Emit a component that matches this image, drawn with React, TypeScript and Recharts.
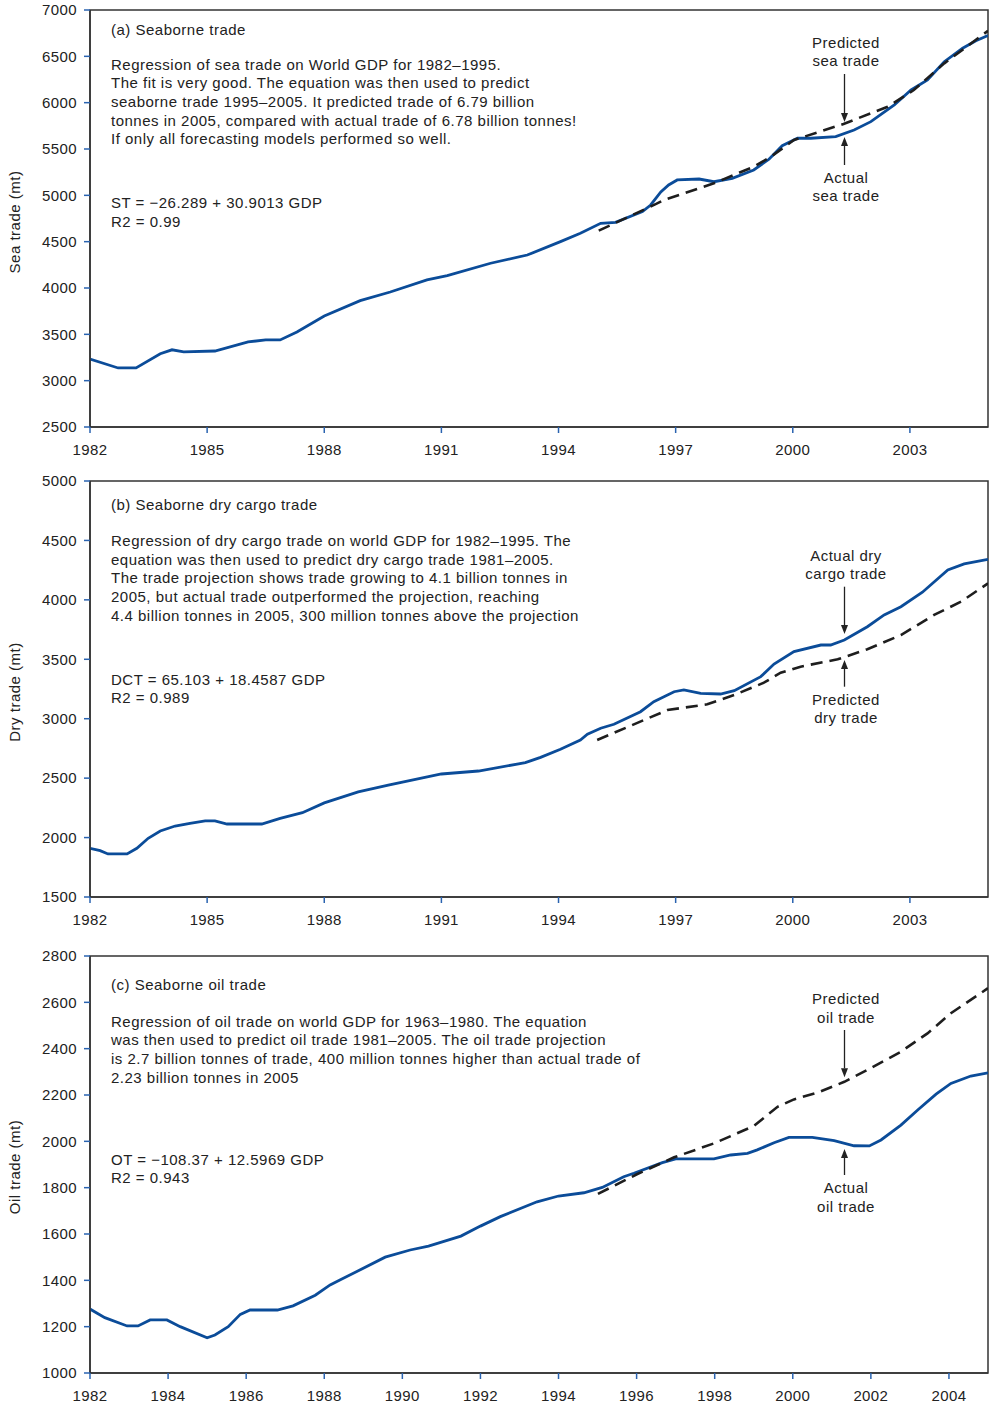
import { LineChart, Line, XAxis, YAxis, ReferenceArea, Customized } from 'recharts';

const FONT = '"Liberation Sans", Arial, Helvetica, sans-serif';
const BLUE = '#0b4c99';
const TICK_BLUE = '#2a63b0';
const INK = '#222';

// (a) seaborne trade, mt
const seaYears = [1982.0, 1982.72, 1983.18, 1983.8, 1984.1, 1984.4, 1985.2, 1986.05, 1986.5, 1986.87, 1987.3, 1988.0, 1988.92, 1989.69, 1990.63, 1991.15, 1992.26, 1993.2, 1994.05, 1994.56, 1995.08, 1995.46, 1996.15, 1996.36, 1996.62, 1996.82, 1997.04, 1997.6, 1997.98, 1998.45, 1999.0, 1999.39, 1999.73, 2000.12, 2000.46, 2001.1, 2001.57, 2002.0, 2002.6, 2003.03, 2003.45, 2003.88, 2004.35, 2004.69, 2005.0];
const seaActual = [3234, 3137, 3137, 3290, 3333, 3310, 3320, 3418, 3440, 3440, 3525, 3698, 3863, 3957, 4087, 4133, 4267, 4356, 4500, 4590, 4698, 4709, 4824, 4896, 5036, 5112, 5166, 5176, 5147, 5184, 5274, 5389, 5536, 5616, 5616, 5633, 5705, 5795, 5975, 6137, 6245, 6442, 6587, 6669, 6725];
const seaPredYears = [1995.03, 1996.5, 1996.7, 1997.98, 1999.0, 1999.44, 2000.03, 2001.3, 2002.43, 2003.1, 2003.88, 2005.0];
const seaPred = [4619, 4907, 4950, 5130, 5309, 5417, 5597, 5770, 5956, 6137, 6424, 6775];

// (b) dry cargo trade, mt
const dryYears = [1982.0, 1982.26, 1982.46, 1982.95, 1983.2, 1983.49, 1983.8, 1984.18, 1984.56, 1984.95, 1985.2, 1985.51, 1986.4, 1986.87, 1987.44, 1988.0, 1988.87, 1989.64, 1991.0, 1991.95, 1993.15, 1993.54, 1994.05, 1994.56, 1994.74, 1995.08, 1995.42, 1996.1, 1996.44, 1996.96, 1997.21, 1997.64, 1998.15, 1998.5, 1999.18, 1999.52, 2000.03, 2000.72, 2000.97, 2001.32, 2001.91, 2002.34, 2002.77, 2003.32, 2003.97, 2004.39, 2005.0];
const dryActual = [1910, 1890, 1862, 1862, 1910, 1994, 2055, 2097, 2120, 2140, 2140, 2114, 2114, 2162, 2209, 2292, 2384, 2442, 2535, 2560, 2630, 2675, 2743, 2821, 2869, 2920, 2953, 3059, 3143, 3227, 3242, 3214, 3208, 3236, 3354, 3460, 3564, 3620, 3620, 3662, 3774, 3873, 3942, 4064, 4251, 4302, 4341];
const dryPredYears = [1994.99, 1996.79, 1997.81, 1998.5, 1999.26, 1999.69, 2000.2, 2001.15, 2001.91, 2002.77, 2003.62, 2004.31, 2005.0];
const dryPred = [2821, 3073, 3121, 3200, 3303, 3387, 3438, 3500, 3584, 3704, 3873, 3985, 4139];

// (c) oil trade, mt
const oilYears = [1982.0, 1982.38, 1982.95, 1983.23, 1983.54, 1983.97, 1984.31, 1985.0, 1985.2, 1985.54, 1985.85, 1986.1, 1986.8, 1987.2, 1987.77, 1988.15, 1988.4, 1989.56, 1990.2, 1990.67, 1991.5, 1992.0, 1992.51, 1993.45, 1994.0, 1994.65, 1995.12, 1995.67, 1995.93, 1996.66, 1997.0, 1997.98, 1998.41, 1998.84, 1999.09, 1999.52, 1999.9, 2000.5, 2001.06, 2001.57, 2001.96, 2002.26, 2002.77, 2003.2, 2003.67, 2004.05, 2004.56, 2005.0];
const oilActual = [1276, 1239, 1203, 1203, 1229, 1229, 1200, 1152, 1164, 1200, 1253, 1272, 1272, 1290, 1336, 1380, 1401, 1500, 1531, 1548, 1591, 1634, 1675, 1739, 1764, 1778, 1801, 1847, 1862, 1908, 1924, 1924, 1941, 1948, 1963, 1994, 2017, 2017, 2003, 1981, 1980, 2006, 2070, 2135, 2204, 2250, 2282, 2296];
const oilPredYears = [1995.01, 1996.02, 1996.96, 1997.98, 1999.0, 1999.61, 2000.03, 2000.63, 2001.32, 2001.91, 2002.77, 2003.45, 2004.05, 2005.0];
const oilPred = [1773, 1859, 1931, 1991, 2066, 2149, 2181, 2210, 2257, 2308, 2387, 2466, 2553, 2661];

const yearTicks3 = [1982, 1985, 1988, 1991, 1994, 1997, 2000, 2003];
const yearTicks2 = [1982, 1984, 1986, 1988, 1990, 1992, 1994, 1996, 1998, 2000, 2002, 2004];
const seaTicks = [2500, 3000, 3500, 4000, 4500, 5000, 5500, 6000, 6500, 7000];
const dryTicks = [1500, 2000, 2500, 3000, 3500, 4000, 4500, 5000];
const oilTicks = [1000, 1200, 1400, 1600, 1800, 2000, 2200, 2400, 2600, 2800];

const toPoints = (xs: number[], ys: number[]) => xs.map((year, i) => ({ year, value: ys[i] }));

type Callout = { lines: string[]; y: number; from: number; to: number };
type Notes = {
  yLabel: string;
  yLabelY: number;
  title: string;
  titleY: number;
  para: string[];
  paraY: number;
  eq: string[];
  eqY: number;
  callouts: Callout[];
};

const LH = 18.7;
const tickStyle = { fill: INK, fontSize: 15, fontFamily: FONT, letterSpacing: 0.4 };

function Arrow({ x, from, to }: { x: number; from: number; to: number }) {
  const dir = to > from ? 1 : -1;
  const base = to - dir * 9;
  return (
    <g>
      <line x1={x} y1={from} x2={x} y2={base} stroke={INK} strokeWidth={1.3} />
      <polygon points={`${x - 3.5},${base} ${x + 3.5},${base} ${x},${to}`} fill={INK} />
    </g>
  );
}

function renderNotes(n: Notes) {
  return () => (
    <g fontFamily={FONT} fontSize={15} fill={INK} letterSpacing={0.5}>
      <text x={20} y={n.yLabelY} transform={`rotate(-90, 20, ${n.yLabelY})`} textAnchor="middle">
        {n.yLabel}
      </text>
      <text x={111} y={n.titleY}>{n.title}</text>
      {n.para.map((s, i) => (
        <text key={'p' + i} x={111} y={n.paraY + i * LH}>{s}</text>
      ))}
      {n.eq.map((s, i) => (
        <text key={'e' + i} x={111} y={n.eqY + i * LH}>{s}</text>
      ))}
      {n.callouts.map((c, i) => (
        <g key={'c' + i}>
          {c.lines.map((s, j) => (
            <text key={j} x={846} y={c.y + j * LH} textAnchor="middle">{s}</text>
          ))}
          <Arrow x={844.5} from={c.from} to={c.to} />
        </g>
      ))}
    </g>
  );
}

type PanelProps = {
  top: number;
  height: number;
  marginTop: number;
  marginBottom: number;
  yDomain: [number, number];
  yTicks: number[];
  xTicks: number[];
  actual: { year: number; value: number }[];
  predicted: { year: number; value: number }[];
  notes: Notes;
};

function Panel(p: PanelProps) {
  return (
    <div style={{ position: 'absolute', left: 0, top: p.top }}>
      <LineChart
        width={990}
        height={p.height}
        margin={{ top: p.marginTop, right: 2, bottom: p.marginBottom, left: 0 }}
      >
        <XAxis
          dataKey="year"
          type="number"
          domain={[1982, 2005]}
          ticks={p.xTicks}
          allowDataOverflow
          height={30}
          tickSize={6}
          tickMargin={11}
          tick={tickStyle}
          tickLine={{ stroke: TICK_BLUE, strokeWidth: 1.5 }}
          axisLine={{ stroke: '#333', strokeWidth: 1.5 }}
        />
        <YAxis
          type="number"
          domain={p.yDomain}
          ticks={p.yTicks}
          allowDataOverflow
          width={90}
          tickSize={6}
          tickMargin={7}
          tick={tickStyle}
          tickLine={{ stroke: TICK_BLUE, strokeWidth: 1.5 }}
          axisLine={{ stroke: '#333', strokeWidth: 1.5 }}
        />
        <ReferenceArea
          x1={1982}
          x2={2005}
          y1={p.yDomain[0]}
          y2={p.yDomain[1]}
          fill="none"
          stroke="#333"
          strokeWidth={1.5}
        />
        <Line
          data={p.actual}
          dataKey="value"
          type="linear"
          stroke={BLUE}
          strokeWidth={2.8}
          dot={false}
          activeDot={false}
          isAnimationActive={false}
        />
        <Line
          data={p.predicted}
          dataKey="value"
          type="linear"
          stroke="#1e1e1e"
          strokeWidth={2.6}
          strokeDasharray="12 7"
          dot={false}
          activeDot={false}
          isAnimationActive={false}
        />
        <Customized component={renderNotes(p.notes)} />
      </LineChart>
    </div>
  );
}

const seaNotes: Notes = {
  yLabel: 'Sea trade (mt)',
  yLabelY: 222,
  title: '(a) Seaborne trade',
  titleY: 35,
  para: [
    'Regression of sea trade on World GDP for 1982–1995.',
    'The fit is very good. The equation was then used to predict',
    'seaborne trade 1995–2005. It predicted trade of 6.79 billion',
    'tonnes in 2005, compared with actual trade of 6.78 billion tonnes!',
    'If only all forecasting models performed so well.',
  ],
  paraY: 69.5,
  eq: ['ST = −26.289 + 30.9013 GDP', 'R2 = 0.99'],
  eqY: 208,
  callouts: [
    { lines: ['Predicted', 'sea trade'], y: 47.5, from: 74, to: 122 },
    { lines: ['Actual', 'sea trade'], y: 182.5, from: 165, to: 137 },
  ],
};

const dryNotes: Notes = {
  yLabel: 'Dry trade (mt)',
  yLabelY: 222,
  title: '(b) Seaborne dry cargo trade',
  titleY: 40,
  para: [
    'Regression of dry cargo trade on world GDP for 1982–1995. The',
    'equation was then used to predict dry cargo trade 1981–2005.',
    'The trade projection shows trade growing to 4.1 billion tonnes in',
    '2005, but actual trade outperformed the projection, reaching',
    '4.4 billion tonnes in 2005, 300 million tonnes above the projection',
  ],
  paraY: 76,
  eq: ['DCT = 65.103 + 18.4587 GDP', 'R2 = 0.989'],
  eqY: 214.7,
  callouts: [
    { lines: ['Actual dry', 'cargo trade'], y: 90.7, from: 116.7, to: 164 },
    { lines: ['Predicted', 'dry trade'], y: 234.7, from: 216.7, to: 190 },
  ],
};

const oilNotes: Notes = {
  yLabel: 'Oil trade (mt)',
  yLabelY: 227,
  title: '(c) Seaborne oil trade',
  titleY: 50,
  para: [
    'Regression of oil trade on world GDP for 1963–1980. The equation',
    'was then used to predict oil trade 1981–2005. The oil trade projection',
    'is 2.7 billion tonnes of trade, 400 million tonnes higher than actual trade of',
    '2.23 billion tonnes in 2005',
  ],
  paraY: 86.7,
  eq: ['OT = −108.37 + 12.5969 GDP', 'R2 = 0.943'],
  eqY: 224.7,
  callouts: [
    { lines: ['Predicted', 'oil trade'], y: 64, from: 90, to: 137.3 },
    { lines: ['Actual', 'oil trade'], y: 253.4, from: 235, to: 209 },
  ],
};

export default function App() {
  return (
    <div
      style={{
        position: 'absolute',
        left: 0,
        top: 0,
        width: 990,
        height: 1403,
        background: '#fff',
        fontFamily: FONT,
      }}
    >
      <Panel
        top={0}
        height={470}
        marginTop={10}
        marginBottom={13}
        yDomain={[2500, 7000]}
        yTicks={seaTicks}
        xTicks={yearTicks3}
        actual={toPoints(seaYears, seaActual)}
        predicted={toPoints(seaPredYears, seaPred)}
        notes={seaNotes}
      />
      <Panel
        top={470}
        height={470}
        marginTop={11}
        marginBottom={13}
        yDomain={[1500, 5000]}
        yTicks={dryTicks}
        xTicks={yearTicks3}
        actual={toPoints(dryYears, dryActual)}
        predicted={toPoints(dryPredYears, dryPred)}
        notes={dryNotes}
      />
      <Panel
        top={940}
        height={463}
        marginTop={16}
        marginBottom={0}
        yDomain={[1000, 2800]}
        yTicks={oilTicks}
        xTicks={yearTicks2}
        actual={toPoints(oilYears, oilActual)}
        predicted={toPoints(oilPredYears, oilPred)}
        notes={oilNotes}
      />
    </div>
  );
}
